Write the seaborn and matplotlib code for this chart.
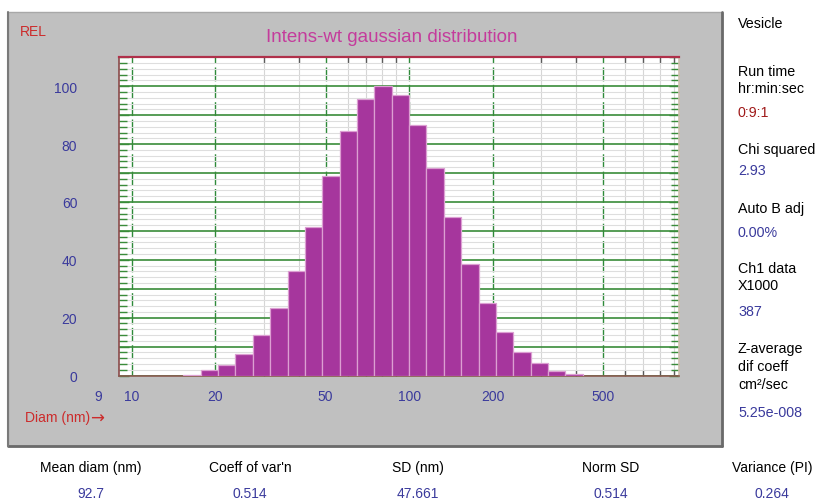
import numpy as np
import matplotlib
matplotlib.use("Agg")
import matplotlib.pyplot as plt
from matplotlib.patches import Rectangle
from matplotlib.lines import Line2D
from matplotlib.ticker import FixedLocator, MultipleLocator, FuncFormatter
import seaborn as sns

# Size classes (nm): edges of the intensity-weighted gaussian bins
bin_edges_nm = [15.36, 17.74, 20.49, 23.67, 27.34, 31.57, 36.47, 42.12, 48.65,
                56.19, 64.90, 74.96, 86.58, 100.0, 115.5, 133.4, 154.1, 178.0,
                205.6, 237.4, 274.2, 316.7, 365.8, 422.5]
# Relative intensity of each size class
intensity_rel = [0.3, 1.8, 3.5, 7.6, 13.9, 23.2, 36.1, 51.3, 68.9, 84.4, 95.5,
                 100.0, 96.8, 86.6, 71.6, 54.7, 38.5, 25.1, 15.2, 8.1, 4.2,
                 1.7, 0.6]

x_tick_values = [10, 20, 50, 100, 200, 500]
x_minor_values = [30, 40, 60, 70, 80, 90, 300, 400, 600, 700, 800, 900]

side_items = [
    ("Vesicle", "black"),
    ("Run time", "black"), ("hr:min:sec", "black"), ("0:9:1", "red"),
    ("Chi squared", "black"), ("2.93", "blue"),
    ("Auto B adj", "black"), ("0.00%", "blue"),
    ("Ch1 data", "black"), ("X1000", "black"), ("387", "blue"),
    ("Z-average", "black"), ("dif coeff", "black"), ("cm²/sec", "black"),
    ("5.25e-008", "blue"),
]
side_y_px = [24, 72, 89, 113, 150, 171, 209, 233, 269, 286, 312, 349, 367, 385, 413]

stat_names = ["Mean diam (nm)", "Coeff of var'n", "SD (nm)", "Norm SD", "Variance (PI)"]
stat_values = ["92.7", "0.514", "47.661", "0.514", "0.264"]
stat_x_px = [91, 250, 418, 611, 772]

W, H = 816, 502
BLUE = "#3a3a9c"
DARKRED = "#a01a1a"
RED = "#cc2b2b"
MAGENTA = "#c43c9c"
GREEN = "#3a8c3a"
BAR = "#a6369d"

sns.set_style("white")
plt.rcParams["font.family"] = ["Liberation Sans", "DejaVu Sans"]

fig = plt.figure(figsize=(W / 100, H / 100), dpi=100)
fig.patch.set_facecolor("white")

def fx(px):
    return px / W

def fy(py):
    return 1 - py / H

# grey instrument panel behind the histogram
panel = Rectangle((fx(8), fy(447)), fx(722) - fx(8), fy(13) - fy(447),
                  transform=fig.transFigure, facecolor="#c0c0c0",
                  edgecolor="#a8a8a8", linewidth=1, zorder=-2)
fig.patches.append(panel)
for xs, ys, c, lw in [
    ([fx(722), fx(722)], [fy(447), fy(13)], "#6a6a6a", 2.0),
    ([fx(8), fx(722)], [fy(447), fy(447)], "#6a6a6a", 2.0),
    ([fx(8), fx(8)], [fy(447), fy(13)], "#7a7a7a", 1.5),
]:
    fig.add_artist(Line2D(xs, ys, transform=fig.transFigure, color=c, lw=lw,
                          zorder=-1))

ax = fig.add_axes([fx(119), fy(376.5), fx(679) - fx(119), fy(58.3) - fy(376.5)])
ax.set_zorder(1)
ax.set_facecolor("white")

edges = np.array(bin_edges_nm)
centers = np.sqrt(edges[:-1] * edges[1:])
# seaborn bins the log10-transformed diameters, so the edges go in as log10
sns.histplot(x=centers, weights=intensity_rel, bins=list(np.log10(edges)),
             log_scale=True, ax=ax, color=BAR, edgecolor="#dc9fd2",
             linewidth=0.9, alpha=1.0, zorder=3)

ax.set_xlim(9, 940)
ax.set_ylim(0, 110)
ax.set_xlabel("")
ax.set_ylabel("")
ax.set_axisbelow(True)

ax.xaxis.set_major_locator(FixedLocator(x_tick_values))
ax.xaxis.set_minor_locator(FixedLocator(x_minor_values))
ax.xaxis.set_major_formatter(FuncFormatter(lambda v, p: f"{v:g}"))
ax.xaxis.set_minor_formatter(FuncFormatter(lambda v, p: ""))
ax.yaxis.set_major_locator(MultipleLocator(10))
ax.yaxis.set_minor_locator(MultipleLocator(2))
ax.yaxis.set_major_formatter(FuncFormatter(
    lambda v, p: f"{int(round(v))}" if round(v) % 20 == 0 and v <= 100 else ""))

ax.grid(which="major", axis="x", color="#2f8a3a", linestyle=(0, (10, 2.5)), lw=1.0)
ax.grid(which="minor", axis="x", color="#d6d6d6", lw=0.8)
ax.grid(which="major", axis="y", color=GREEN, lw=1.2)
ax.grid(which="minor", axis="y", color="#dedede", lw=0.8)

ax.tick_params(axis="x", which="major", length=0, labelsize=10,
               labelcolor=BLUE, pad=10)
ax.tick_params(axis="x", which="minor", direction="in", length=4, width=1,
               color="#5a5a5a", top=True, bottom=True)
ax.tick_params(axis="y", which="major", direction="in", length=7, width=1,
               color=GREEN, left=True, right=True, labelsize=10,
               labelcolor=BLUE, pad=30)
ax.tick_params(axis="y", which="minor", direction="in", length=6, width=1,
               color=GREEN, left=True, right=True)

ax.spines["top"].set_color("#b0304a")
ax.spines["top"].set_linewidth(1.6)
ax.spines["left"].set_color("#8a4a4a")
ax.spines["left"].set_linewidth(1.2)
ax.spines["bottom"].set_color("#8a5a50")
ax.spines["bottom"].set_linewidth(1.2)
ax.spines["right"].set_color("#d0c0b0")
ax.spines["right"].set_linewidth(1.2)

# lower limit label sits left of the frame
fig.text(fx(98), fy(397), "9", color=BLUE, fontsize=10, ha="center", va="center")
fig.text(fx(20), fy(32), "REL", color=RED, fontsize=10, ha="left", va="center")
fig.text(fx(25), fy(418), "Diam (nm)", color=RED, fontsize=10, ha="left",
         va="center")
fig.text(fx(90), fy(419), "→", color=RED, fontsize=12, ha="left",
         va="center", family="DejaVu Sans")
fig.text(fx(392), fy(38), "Intens-wt gaussian distribution", color=MAGENTA,
         fontsize=13.5, ha="center", va="center")

colors = {"black": "black", "red": DARKRED, "blue": BLUE}
for (txt, c), y in zip(side_items, side_y_px):
    fig.text(fx(738), fy(y), txt, color=colors[c], fontsize=10.3,
             ha="left", va="center")

for name, val, x in zip(stat_names, stat_values, stat_x_px):
    fig.text(fx(x), fy(468), name, color="black", fontsize=10, ha="center",
             va="center")
    fig.text(fx(x), fy(494), val, color=BLUE, fontsize=10, ha="center",
             va="center")

fig.savefig("out.png", dpi=100, facecolor="white")
